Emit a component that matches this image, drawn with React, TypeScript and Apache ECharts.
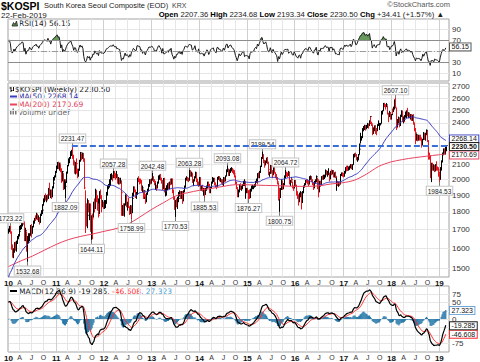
import React, { useEffect, useRef } from "react";
import * as echarts from "echarts";

// ---- weekly data (read / estimated from the reference) ----
// 2009 weekly closes, only used to seed MA(50), RSI and MACD
const warmup2009 = [1157,1180,1110,1130,1160,1200,1125,1063,1060,1090,1170,1230,1260,1330,1370,1360,1370,1395,1410,1395,1410,1400,1395,1390,1390,1430,1440,1480,1560,1570,1580,1570,1590,1610,1650,1690,1700,1670,1640,1620,1610,1600,1580,1580,1560,1580,1530,1590,1640,1650,1660,1680];

const close2010 = [1695,1712,1685,1602,1567,1582,1625,1594,1630,1660,1670,1690,1710,1715,1725,1752,1741,1647,1695,1600,1652,1664,1666,1720,1700,1680,1715,1740,1760,1759,1785,1760,1765,1740,1780,1800,1810,1840,1870,1890,1885,1890,1880,1940,1915,1925,1895,1950,1975,2010,2020,2051];
const high2010 = [1705,1720,1723.22,1690,1620,1600,1632,1635,1640,1665,1675,1700,1720,1725,1740,1757,1760,1745,1710,1690,1665,1680,1680,1725,1730,1710,1720,1750,1765,1780,1795,1790,1780,1770,1790,1810,1820,1845,1880,1900,1910,1900,1905,1945,1978,1935,1935,1955,1985,2015,2025,2055];
const low2010 = [1680,1688,1680,1595,1555,1552,1580,1590,1585,1625,1650,1665,1690,1700,1705,1720,1730,1640,1640,1585,1532.68,1630,1640,1670,1695,1660,1680,1715,1735,1750,1760,1755,1745,1730,1740,1780,1790,1810,1840,1860,1870,1860,1870,1880,1900,1885,1880,1890,1945,1970,1995,2015];

const close2011 = [2086,2108,2087,2107,2070,1990,2050,1940,1985,1955,1980,2045,2090,2130,2145,2185,2192,2150,2120,2055,2110,2105,2045,2025,2060,2125,2180,2145,2175,2135,1945,1795,1745,1780,1865,1810,1840,1700,1770,1760,1850,1830,1930,1880,1840,1860,1780,1920,1890,1840,1855,1825];
const high2011 = [2090,2115,2117,2110,2100,2070,2055,2040,2000,2000,1985,2050,2095,2140,2150,2190,2200,2231.47,2165,2125,2115,2140,2110,2070,2070,2130,2185,2175,2180,2175,2140,1930,1850,1800,1880,1870,1850,1850,1780,1790,1860,1880,1940,1930,1900,1880,1850,1925,1935,1900,1870,1860];
const low2011 = [2045,2070,2070,2060,2050,1980,1990,1935,1940,1935,1882.09,1980,2040,2090,2110,2140,2160,2140,2095,2040,2035,2090,2040,2010,2020,2060,2120,2130,2140,2120,1940,1684,1720,1710,1780,1800,1755,1690,1644.11,1650,1770,1800,1820,1860,1810,1820,1770,1790,1880,1800,1830,1820];

const close2012 = [1843,1860,1915,1955,1960,1980,2010,2020,2020,2015,2050,2025,2015,2030,1995,2005,1990,1990,1915,1785,1815,1800,1845,1890,1835,1855,1830,1795,1835,1800,1880,1900,1945,1930,1905,1905,2005,2000,1995,1990,1940,1945,1890,1925,1905,1860,1910,1930,1960,1995,1985,1997];
const high2012 = [1870,1870,1920,1960,1970,2000,2015,2035,2040,2030,2057.28,2055,2040,2055,2030,2015,2010,2010,1990,1915,1840,1850,1850,1905,1905,1860,1885,1830,1840,1835,1890,1915,1955,1955,1935,1920,2010,2020,2005,2005,1995,1960,1935,1930,1925,1905,1915,1940,1970,2000,2000,2005];
const low2012 = [1820,1825,1850,1900,1940,1950,1960,1995,2000,1990,2010,2010,2000,2010,1975,1970,1970,1975,1910,1780,1780,1780,1775,1840,1830,1810,1825,1785,1790,1758.99,1795,1870,1895,1920,1885,1880,1905,1985,1970,1975,1930,1920,1880,1880,1890,1850,1860,1905,1925,1955,1970,1975];

const close2013 = [2012,1996,1985,1945,1955,1950,1981,2018,2026,2006,1990,1940,2004,1925,1925,1940,1945,1965,1945,1980,1970,2000,1920,1880,1825,1863,1833,1880,1880,1910,1920,1885,1918,1870,1926,1950,2003,2008,2000,1995,2025,2050,2040,2040,1985,1990,2010,2045,1990,1980,1965,2011];
const high2013 = [2042.48,2020,2000,1990,1975,1965,1985,2025,2030,2035,2010,1995,2008,2010,1945,1960,1960,1975,1980,1985,2005,2005,2005,1935,1890,1870,1880,1890,1890,1920,1930,1925,1925,1925,1930,1960,2010,2020,2015,2010,2030,2063.28,2060,2050,2040,2000,2020,2050,2045,2005,1985,2015];
const low2013 = [1995,1985,1965,1940,1935,1930,1945,1975,2000,1995,1975,1935,1940,1920,1895,1900,1920,1935,1940,1940,1965,1970,1915,1875,1815,1770.53,1830,1820,1860,1870,1895,1880,1880,1850,1865,1920,1950,1995,1990,1985,1995,2030,2020,2020,1980,1960,1990,2010,1985,1965,1955,1960];

const close2014 = [1946,1938,1950,1940,1941,1907,1940,1945,1980,1965,1920,1945,1980,1993,1997,2004,1970,1960,1950,2013,2015,1995,1995,1990,1970,1985,2010,1990,2020,2060,2065,2030,2055,2065,2070,2050,2045,2035,2020,1976,1945,1900,1925,1965,1940,1945,1965,1980,1985,1920,1930,1930];
const high2014 = [2010,1960,1960,1965,1945,1945,1945,1960,1985,1985,1970,1950,1985,2000,2015,2010,2010,1980,1965,2015,2020,2020,2010,2000,2000,1995,2015,2010,2025,2065,2093.08,2070,2065,2075,2080,2075,2065,2060,2045,2025,1985,1950,1935,1970,1975,1960,1970,1990,2000,1990,1945,1945];
const low2014 = [1940,1930,1930,1925,1900,1885.53,1905,1930,1945,1950,1915,1915,1945,1975,1985,1985,1965,1950,1940,1955,2000,1990,1985,1975,1965,1960,1985,1985,1990,2025,2050,2025,2025,2045,2055,2045,2035,2030,2015,1970,1940,1890,1890,1920,1935,1930,1940,1960,1960,1915,1881,1915];

const close2015 = [1926,1924,1890,1935,1950,1952,1955,1960,1985,1995,1985,2035,2020,2050,2085,2145,2160,2125,2105,2120,2140,2115,2065,2040,2040,2090,2055,2030,2075,2045,2030,2010,1985,1876,1937,1886,1940,1995,1942,1970,2020,2040,2035,2030,2045,1975,1990,2000,1990,1950,1945,1990];
const high2015 = [1945,1930,1935,1940,1960,1965,1960,1970,1990,2005,2000,2040,2045,2055,2090,2150,2189.54,2170,2130,2125,2145,2150,2115,2075,2050,2095,2090,2060,2080,2080,2045,2035,2015,1980,1945,1945,1945,2000,1990,1975,2025,2064.72,2050,2045,2055,2050,1995,2015,2010,1985,1960,1995];
const low2015 = [1915,1876.27,1880,1885,1925,1940,1940,1950,1955,1980,1970,1990,2010,2010,2045,2085,2140,2110,2080,2095,2110,2105,2060,2030,2020,2040,2040,2010,2030,2040,2010,2000,1970,1870,1800.75,1880,1885,1935,1935,1940,1965,2010,2020,2015,2025,1970,1960,1985,1980,1945,1930,1945];

const close2016 = [1961,1918,1900,1880,1912,1917,1862,1916,1920,1955,1971,1992,1990,1985,1970,2015,2015,1995,1975,1965,1950,1985,1985,2017,1953,1925,1987,1963,2017,2010,2016,2017,2045,2055,2037,2040,2040,2000,2050,2043,2055,2022,2040,2020,1982,1985,1975,1977,1970,2030,2040,2036,2026];
const high2016 = [1995,1965,1925,1905,1915,1925,1915,1920,1925,1960,1975,1995,2000,2000,1990,2020,2025,2020,2000,1980,1970,1990,2000,2025,2010,2000,1990,1990,2020,2025,2030,2030,2050,2065,2060,2055,2073,2040,2055,2065,2060,2060,2045,2050,2020,2010,1990,1985,1985,2035,2045,2045,2040];
const low2016 = [1955,1900,1880,1840,1860,1890,1817,1855,1890,1915,1950,1965,1980,1970,1960,1970,2000,1985,1965,1955,1935,1945,1975,1985,1940,1890,1920,1955,1965,2000,2000,2005,2015,2040,2030,2020,2030,1990,2005,2030,2035,2015,2015,2010,1975,1930,1960,1955,1960,1970,2025,2020,2015];

const close2017 = [2049,2076,2065,2083,2073,2075,2080,2095,2078,2097,2165,2168,2160,2133,2135,2165,2205,2241,2285,2288,2355,2371,2381,2361,2378,2391,2379,2414,2450,2400,2395,2320,2360,2378,2357,2343,2386,2388,2394,2394,2473,2489,2496,2557,2542,2533,2545,2475,2464,2482,2440,2467];
const high2017 = [2055,2080,2090,2090,2085,2080,2090,2100,2100,2100,2170,2175,2180,2170,2150,2170,2215,2245,2325,2300,2360,2375,2385,2380,2385,2400,2395,2420,2453,2450,2410,2390,2365,2380,2380,2360,2390,2420,2400,2400,2480,2495,2500,2560,2560,2550,2560,2540,2480,2495,2485,2470];
const low2017 = [2020,2040,2055,2060,2060,2060,2065,2075,2070,2065,2100,2150,2155,2130,2120,2130,2170,2205,2250,2270,2290,2340,2350,2345,2355,2365,2360,2380,2420,2395,2380,2310,2320,2340,2320,2310,2340,2380,2350,2385,2400,2465,2470,2500,2530,2510,2530,2470,2410,2450,2430,2430];

const close2018 = [2497,2496,2520,2575,2525,2363,2421,2440,2385,2459,2494,2417,2445,2429,2455,2476,2492,2461,2477,2460,2460,2438,2452,2404,2357,2326,2272,2310,2289,2294,2287,2282,2247,2273,2322,2287,2318,2339,2343,2267,2161,2156,2027,2096,2086,2092,2057,2096,2075,2070,2061,2041];
const high2018 = [2500,2515,2530,2590,2607.1,2520,2430,2450,2440,2465,2500,2495,2450,2460,2460,2490,2500,2520,2485,2480,2470,2470,2465,2470,2400,2360,2330,2320,2310,2310,2310,2310,2290,2280,2330,2320,2325,2345,2350,2340,2270,2180,2160,2110,2110,2100,2090,2100,2120,2085,2080,2065];
const low2018 = [2465,2475,2490,2510,2520,2350,2370,2400,2370,2380,2450,2410,2400,2410,2420,2445,2440,2455,2440,2440,2430,2420,2420,2390,2340,2300,2245,2270,2265,2270,2270,2270,2220,2235,2275,2275,2270,2310,2320,2260,2135,2135,2010,1985,2060,2060,2050,2055,2060,2060,2040,2020];

const close2019 = [2010,2075,2124,2177,2203,2177,2196,2230.5];
const high2019 = [2050,2080,2125,2180,2210,2210,2220,2234.68];
const low2019 = [1984.53,2000,2060,2115,2165,2170,2170,2193.34];

// MA(200) at sample weeks
const ma200Weeks = [0,13,26,39,52,65,78,91,104,117,130,143,156,169,182,195,208,221,234,247,260,273,286,299,312,325,338,351,364,377,390,403,416,429,442,455,468,476];
const ma200Values = [1508,1535,1560,1590,1620,1645,1662,1675,1690,1705,1730,1770,1815,1855,1895,1915,1930,1942,1955,1965,1965,1962,1960,1958,1955,1955,1958,1970,1978,1995,2035,2085,2115,2132,2145,2155,2165,2170.69];

// labelled highs (1) and lows (-1): week index
const markWeeks = [2,20,69,62,114,90,133,156,181,197,213,238,261,276,294,301,421,469];
const markKinds = [1,-1,1,-1,1,-1,-1,1,-1,1,-1,1,-1,1,-1,1,1,-1];

const priceTicks = [1500,1600,1700,1800,1900,2000,2100,2200,2300,2400,2500,2600,2700];
const priceLabels = [1500,1600,1700,1800,1900,2000,2100,2400,2500,2600,2700];
const rsiTicks = [10,30,50,70,90];
const rsiLabels = [10,30,70,90];
const macdTicks = [-75,-50,-25,0,25,50,75];
const macdLabels = [-75,0,50,75];

// ---- assembled series ----
const closes = [...close2010,...close2011,...close2012,...close2013,...close2014,...close2015,...close2016,...close2017,...close2018,...close2019];
const highs = [...high2010,...high2011,...high2012,...high2013,...high2014,...high2015,...high2016,...high2017,...high2018,...high2019];
const lows = [...low2010,...low2011,...low2012,...low2013,...low2014,...low2015,...low2016,...low2017,...low2018,...low2019];
const N = closes.length;
const CATS = N + 3;
const START = Date.UTC(2010, 0, 8);
const dates = Array.from({ length: CATS }, (_, i) => new Date(START + i * 7 * 86400000).toISOString().slice(0, 10));
const isQ = dates.map((d, i) => {
  const m = d.slice(5, 7);
  return ["01", "04", "07", "10"].includes(m) && (i === 0 || dates[i - 1].slice(5, 7) !== m);
});
const isY = dates.map((d, i) => isQ[i] && d.slice(5, 7) === "01");

function indicators() {
  const all = [...warmup2009, ...closes];
  const W = warmup2009.length;
  const ma50 = closes.map((_, i) => {
    const k = i + W;
    let s = 0;
    for (let j = k - 49; j <= k; j++) s += all[j];
    return +(s / 50).toFixed(2);
  });
  const n = 14;
  const rsiAll: number[] = new Array(all.length).fill(NaN);
  let g = 0, l = 0;
  for (let k = 1; k <= n; k++) {
    const d = all[k] - all[k - 1];
    if (d > 0) g += d; else l -= d;
  }
  g /= n; l /= n;
  rsiAll[n] = 100 - 100 / (1 + g / l);
  for (let k = n + 1; k < all.length; k++) {
    const d = all[k] - all[k - 1];
    g = (g * (n - 1) + Math.max(d, 0)) / n;
    l = (l * (n - 1) + Math.max(-d, 0)) / n;
    rsiAll[k] = l === 0 ? 100 : 100 - 100 / (1 + g / l);
  }
  const ema = (arr: number[], p: number) => {
    const a = 2 / (p + 1);
    const out = [arr[0]];
    for (let k = 1; k < arr.length; k++) out.push(a * arr[k] + (1 - a) * out[k - 1]);
    return out;
  };
  const e12 = ema(all, 12), e26 = ema(all, 26);
  const macdAll = all.map((_, k) => e12[k] - e26[k]);
  const sigAll = ema(macdAll, 9);
  const rsi = rsiAll.slice(W).map((v) => +v.toFixed(2));
  const macd = macdAll.slice(W).map((v) => +v.toFixed(3));
  const signal = sigAll.slice(W).map((v) => +v.toFixed(3));
  const hist = macd.map((v, i) => +(v - signal[i]).toFixed(3));
  return { ma50, rsi, macd, signal, hist };
}

const F = '"Liberation Sans", Arial, sans-serif';

function buildOption() {
  const { ma50, rsi, macd, signal, hist } = indicators();
  const prevClose = (i: number) => (i === 0 ? warmup2009[warmup2009.length - 1] : closes[i - 1]);
  const barData = closes.map((c, i) => [i, highs[i], lows[i], c, c >= prevClose(i) ? 1 : 0]);
  const ma200Data: (number | null)[] = new Array(N).fill(null);
  ma200Weeks.forEach((w, k) => (ma200Data[w] = ma200Values[k]));
  const markData = markWeeks.map((w, k) => [w, markKinds[k] > 0 ? highs[w] : lows[w], markKinds[k]]);
  const rsiFill = rsi.map((v) => Math.max(v, 70));
  const empty = new Array(N).fill(null);

  const grids = [
    { left: 8, top: 19, width: 441, height: 62 },
    { left: 8, top: 83, width: 441, height: 194 },
    { left: 8, top: 286, width: 441, height: 67 },
  ].map((g) => ({ ...g, show: true, borderColor: "#a3a3a3", borderWidth: 1, backgroundColor: "transparent" }));

  const fmtDate = (v: string) => {
    const m = v.slice(5, 7);
    if (m === "01") return "{y|" + v.slice(2, 4) + "}";
    return m === "04" ? "A" : m === "07" ? "J" : "O";
  };
  const qAxis = (g: number, labels: boolean) => ({
    type: "category", gridIndex: g, data: dates, boundaryGap: true,
    axisLine: { show: false }, axisTick: { show: false },
    axisLabel: {
      show: labels, interval: (i: number) => isQ[i], formatter: fmtDate, margin: 2,
      color: "#333", fontFamily: F, fontSize: 7,
      rich: { y: { fontWeight: "bold", fontSize: 8, fontFamily: F, color: "#111" } },
    },
    splitLine: { show: true, interval: (i: number) => isQ[i] && !isY[i], lineStyle: { color: "#e6e6e6", width: 1 } },
  });
  const yrAxis = (g: number) => ({
    type: "category", gridIndex: g, data: dates, boundaryGap: true,
    axisLine: { show: false }, axisTick: { show: false }, axisLabel: { show: false },
    splitLine: { show: true, interval: (i: number) => isY[i], lineStyle: { color: "#cfcfcf", width: 1 } },
  });
  const grid = { lineStyle: { color: "#e6e6e6", width: 1 } };

  const hidden = { color: "rgba(0,0,0,0)", width: 0, type: "solid" };
  const tag = (text: string, border: string, dy = 0, bold = false) => ({
    show: true, position: "end", distance: 1, formatter: text, color: "#111", fontFamily: F,
    fontSize: 7, lineHeight: 7, fontWeight: bold ? "bold" : "normal", backgroundColor: "#fff",
    borderColor: border, borderWidth: 1, padding: [0, 1.5, 0, 1.5], offset: [0, dy],
  });
  // right-hand tick labels, placed through the axis scale
  const tickLabels = (vals: number[]) => ({
    silent: true, symbol: ["none", "none"], z: 1,
    data: vals.map((v) => ({ yAxis: v, lineStyle: hidden,
      label: { show: true, position: "end", distance: 3, formatter: String(v), color: "#333", fontFamily: F, fontSize: 8 } })),
  });

  const txtTop = (x: number, y: number, text: string, font: string, fill: string, align = "left") => ({
    type: "text", x, y, silent: true, style: { text, font, fill, align, verticalAlign: "top" },
  });
  const txt = (x: number, y: number, text: string, font: string, fill: string, align = "left") => ({
    type: "text", x, y, silent: true, style: { text, font, fill, align, verticalAlign: "middle" },
  });
  const seg = (x1: number, y1: number, x2: number, y2: number, stroke: string, w = 2) => ({
    type: "line", silent: true, shape: { x1, y1, x2, y2 }, style: { stroke, lineWidth: w },
  });

  return {
    animation: false,
    backgroundColor: "#fff",
    grid: grids,
    xAxis: [qAxis(0, false), yrAxis(0), qAxis(1, true), yrAxis(1), qAxis(2, true), yrAxis(2)],
    yAxis: [
      { type: "value", gridIndex: 0, min: -4, max: 108.7, position: "right", axisLine: { show: false },
        axisTick: { show: false, customValues: rsiTicks }, axisLabel: { show: false }, splitLine: grid },
      { type: "log", logBase: 10, gridIndex: 1, min: 1458, max: 2731, position: "right", axisLine: { show: false },
        axisTick: { show: false, customValues: priceTicks }, axisLabel: { show: false }, splitLine: grid },
      { type: "value", gridIndex: 2, min: -101, max: 101, position: "right", axisLine: { show: false },
        axisTick: { show: false, customValues: macdTicks }, axisLabel: { show: false }, splitLine: grid },
    ],
    series: [
      { type: "line", xAxisIndex: 0, yAxisIndex: 0, data: empty, symbol: "none", silent: true, z: 1, markLine: tickLabels(rsiLabels) },
      { type: "line", xAxisIndex: 2, yAxisIndex: 1, data: empty, symbol: "none", silent: true, z: 1, markLine: tickLabels(priceLabels) },
      { type: "line", xAxisIndex: 4, yAxisIndex: 2, data: empty, symbol: "none", silent: true, z: 1, markLine: tickLabels(macdLabels) },
      { type: "line", xAxisIndex: 0, yAxisIndex: 0, data: rsiFill, symbol: "none", silent: true, z: 2,
        lineStyle: { width: 0, opacity: 0 }, areaStyle: { color: "#679a5c", origin: 70, opacity: 1 } },
      { type: "line", xAxisIndex: 0, yAxisIndex: 0, data: rsi, symbol: "none", z: 4,
        lineStyle: { color: "#1a1a1a", width: 1 },
        markLine: { silent: true, symbol: ["none", "none"], z: 10, data: [
          { yAxis: 70, lineStyle: { color: "#8c8c8c", width: 1, type: "solid" }, label: { show: false } },
          { yAxis: 30, lineStyle: { color: "#8c8c8c", width: 1, type: "solid" }, label: { show: false } },
          { yAxis: 50, lineStyle: { color: "#9a9a9a", width: 1, type: [6, 2, 1, 2] }, label: { show: false } },
          { yAxis: 56.15, lineStyle: hidden, label: tag("56.15", "#555", -1) },
        ] } },
      { type: "custom", xAxisIndex: 2, yAxisIndex: 1, data: barData, encode: { x: 0, y: [1, 2] }, z: 3, clip: true,
        renderItem: (_p: any, api: any) => {
          const i = api.value(0);
          const hi = api.coord([i, api.value(1)]);
          const lo = api.coord([i, api.value(2)]);
          const cl = api.coord([i, api.value(3)]);
          const x = Math.round(hi[0]) + 0.5;
          const color = api.value(4) > 0 ? "#000" : "#e8141e";
          return { type: "group", children: [
            { type: "line", shape: { x1: x, y1: hi[1], x2: x, y2: lo[1] + 0.5 }, style: { stroke: color, lineWidth: 1 } },
            { type: "line", shape: { x1: x, y1: cl[1], x2: x + 1.2, y2: cl[1] }, style: { stroke: color, lineWidth: 1 } },
          ] };
        } },
      { type: "line", xAxisIndex: 2, yAxisIndex: 1, data: ma200Data, connectNulls: true, smooth: 0.3, symbol: "none", z: 5,
        lineStyle: { color: "#e8435f", width: 1 },
        markLine: { silent: true, symbol: ["none", "none"], z: 10, data: [
          { yAxis: 2170.69, lineStyle: hidden, label: tag("2170.69", "#e8435f", 1) },
        ] } },
      { type: "line", xAxisIndex: 2, yAxisIndex: 1, data: ma50, symbol: "none", z: 6,
        lineStyle: { color: "#3b3dc0", width: 1 },
        markLine: { silent: true, symbol: ["none", "none"], z: 10, data: [
          [{ coord: [dates[69], 2231.47], lineStyle: { color: "#3a6fd8", width: 2, type: [6, 3] }, label: { show: false } },
           { coord: [dates[CATS - 1], 2231.47] }],
          { yAxis: 2268.14, lineStyle: hidden, label: tag("2268.14", "#3b3dc0", -1.5) },
          { yAxis: 2230.5, lineStyle: hidden, label: tag("2230.50", "#222", 1, true) },
        ] } },
      { type: "custom", xAxisIndex: 2, yAxisIndex: 1, data: markData, encode: { x: 0, y: 1 }, z: 8,
        renderItem: (p: any, api: any) => {
          const pt = api.coord([api.value(0), api.value(1)]);
          const up = api.value(2) > 0;
          const x = Math.round(pt[0]) + 0.5;
          const ty = up ? pt[1] - 3 : pt[1] + 5;
          const v = markData[p.dataIndex][1] as number;
          return { type: "group", children: [
            { type: "line", shape: { x1: x, y1: pt[1], x2: x, y2: ty }, style: { stroke: "#777", lineWidth: 1 } },
            { type: "text", x, y: ty, style: { text: v.toFixed(2), font: '6.5px "Liberation Sans"', fill: "#222",
              align: "center", verticalAlign: up ? "bottom" : "top", backgroundColor: "#fff",
              borderColor: "#c4c4c4", borderWidth: 1, padding: [1, 1, 0, 1] } },
          ] };
        } },
      { type: "bar", xAxisIndex: 4, yAxisIndex: 2, data: hist, barWidth: 1.2, z: 2, itemStyle: { color: "#2b7bab" } },
      { type: "line", xAxisIndex: 4, yAxisIndex: 2, data: signal, symbol: "none", z: 4, lineStyle: { color: "#ff2d2d", width: 1 },
        markLine: { silent: true, symbol: ["none", "none"], z: 10, data: [
          { yAxis: -46.608, lineStyle: hidden, label: tag("-46.608", "#ff2d2d") },
        ] } },
      { type: "line", xAxisIndex: 4, yAxisIndex: 2, data: macd, symbol: "none", z: 5, lineStyle: { color: "#000", width: 1.2 },
        markLine: { silent: true, symbol: ["none", "none"], z: 10, data: [
          { yAxis: 27.323, lineStyle: hidden, label: tag("27.323", "#6ea6d8", 0.5) },
          { yAxis: -19.285, lineStyle: hidden, label: tag("-19.285", "#222", 0.5) },
        ] } },
    ],
    graphic: [
      txtTop(1, 0, "$KOSPI", 'bold 10.5px "Liberation Sans"', "#000"),
      txtTop(44, 1.8, "South Korea Seoul Composite (EOD)", '7.5px "Liberation Sans"', "#222"),
      txtTop(172, 2, "KRX", '7px "Liberation Sans"', "#444"),
      txtTop(450, 0.8, "©StockCharts.com", '7.5px "Liberation Sans"', "#555", "right"),
      txtTop(1, 11, "22-Feb-2019", '8px "Liberation Sans"', "#222"),
      { type: "text", x: 444, y: 10.6, silent: true, style: {
        text: "{b|Open} 2207.36 {b|High} 2234.68 {b|Low} 2193.34 {b|Close} 2230.50 {b|Chg} +34.41 (+1.57%) ▲",
        font: '7.7px "Liberation Sans"', fill: "#222", align: "right", verticalAlign: "top",
        rich: { b: { fontWeight: "bold", fontSize: 7.7, fontFamily: "Liberation Sans", fill: "#000" } } } },
      { type: "polygon", silent: true, shape: { points: [[12, 26], [13.5, 22.5], [15, 24.5], [16.5, 21], [17.5, 26]] }, style: { fill: "#5b8f50", stroke: "#222", lineWidth: 0.8 } },
      txt(19, 23.5, "RSI(14) 56.15", '7.5px "DejaVu Sans"', "#222"),
      seg(11, 86, 11, 92, "#111", 1), seg(13.5, 87, 13.5, 91, "#111", 1), seg(9.5, 88, 11, 88, "#111", 1), seg(11, 90.5, 12.5, 90.5, "#111", 1),
      txt(15, 89, "$KOSPI (Weekly) 2230.50", '7.5px "DejaVu Sans"', "#222"),
      seg(10, 96.5, 17, 96.5, "#3b3dc0", 2),
      txt(18, 96.5, "MA(50) 2268.14", '7.5px "DejaVu Sans"', "#2e2e9e"),
      seg(10, 104.5, 17, 104.5, "#e8435f", 2),
      txt(18, 104.5, "MA(200) 2170.69", '7.5px "DejaVu Sans"', "#e03b58"),
      { type: "rect", silent: true, shape: { x: 10, y: 110, width: 1.5, height: 4.5 }, style: { fill: "#777" } },
      { type: "rect", silent: true, shape: { x: 12.5, y: 108.5, width: 1.5, height: 6 }, style: { fill: "#777" } },
      { type: "rect", silent: true, shape: { x: 15, y: 111, width: 1.5, height: 3.5 }, style: { fill: "#777" } },
      txt(18, 112.3, "Volume undef", '7.5px "DejaVu Sans"', "#666"),
      seg(10, 291, 17, 291, "#000", 2),
      { type: "text", x: 19, y: 291, silent: true, style: {
        text: "{k|MACD(12,26,9) -19.285}{r|, -46.608}{c|, 27.323}", font: '7.5px "DejaVu Sans"', fill: "#111",
        verticalAlign: "middle",
        rich: { k: { fill: "#111", fontSize: 7.5, fontFamily: "DejaVu Sans" }, r: { fill: "#ff2d2d", fontSize: 7.5, fontFamily: "DejaVu Sans" }, c: { fill: "#4a9fd8", fontSize: 7.5, fontFamily: "DejaVu Sans" } } } },
    ],
  };
}

export default function App() {
  const ref = useRef<HTMLDivElement>(null);
  useEffect(() => {
    if (!ref.current) return;
    const chart = echarts.init(ref.current, undefined, { renderer: "svg" });
    chart.setOption(buildOption() as any);
    return () => chart.dispose();
  }, []);
  return <div ref={ref} style={{ position: "fixed", left: 0, top: 0, width: 480, height: 362, background: "#fff" }} />;
}
